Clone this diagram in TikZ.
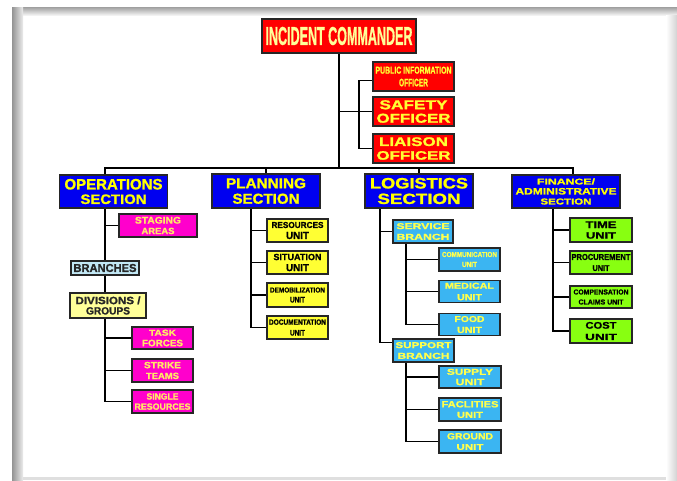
\documentclass[tikz,border=0pt]{standalone}
\usepackage{fontspec}
\usepackage{graphicx}
\setmainfont{Liberation Sans}[BoldFeatures={FakeBold=1.2}]
\usetikzlibrary{calc}

% one text line stretched to a given width and cap height
\newcommand\fitl[3]{\resizebox{#1pt}{#2pt}{#3}}

\definecolor{icred}{HTML}{FF0000}
\definecolor{icText}{HTML}{FFFF99}
\definecolor{staffText}{HTML}{FFFF33}
\definecolor{secblue}{HTML}{0000F0}
\definecolor{secText}{HTML}{FFFF00}
\definecolor{magfill}{HTML}{FF00CC}
\definecolor{magText}{HTML}{FFE866}
\definecolor{unityel}{HTML}{FFFF33}
\definecolor{cyanfill}{HTML}{3BB5F2}
\definecolor{cyanText}{HTML}{FFFF4D}
\definecolor{grnfill}{HTML}{88FF11}
\definecolor{brafill}{HTML}{C2E8F5}
\definecolor{divfill}{HTML}{FFFF99}

\pgfdeclarelayer{frame}
\pgfdeclarelayer{background}
\pgfsetlayers{frame,background,main}

\tikzset{
  orgbox/.style={draw=black!85, line width=1.2pt, inner sep=0pt, align=center,
    font=\bfseries},
  lsp/.style={font=\bfseries\fontsize{8}{#1}\selectfont},
  staff/.style={orgbox, fill=icred, text=staffText, minimum width=81pt, minimum height=29pt},
  sect/.style={orgbox, fill=secblue, text=secText, minimum width=108pt, minimum height=34pt},
  opsunit/.style={orgbox, fill=magfill, text=magText, minimum width=61pt, minimum height=23pt},
  planunit/.style={orgbox, fill=unityel, text=black, minimum width=61pt, minimum height=23pt},
  logunit/.style={orgbox, fill=cyanfill, text=cyanText, minimum width=61pt, minimum height=23pt},
  finunit/.style={orgbox, fill=grnfill, text=black, minimum width=62pt, minimum height=23pt},
  conn/.style={draw=black, line width=1.8pt}
}

\begin{document}
\begin{tikzpicture}[x=1pt, y=-1pt]
\useasboundingbox (0,0) rectangle (677,480);

% page frame
\begin{pgfonlayer}{frame}
  \fill[white] (0,0) rectangle (677,480);
  \shade[top color=gray!75, bottom color=gray!10] (12,7) rectangle (677,15);
  \shade[left color=gray!85, right color=gray!15] (12,7) rectangle (23,480);
  \shade[left color=white, right color=gray!35] (666,15) rectangle (677,480);
  \fill[gray!25] (23,477) rectangle (666,480);
\end{pgfonlayer}

% command staff
\node[orgbox, fill=icred, text=icText, minimum width=154pt, minimum height=34pt] (ic) at (339,36)
  {\fitl{147}{18}{INCIDENT COMMANDER}};
\node[staff, lsp=12.6] (pio) at (413.5,76.5) {\fitl{76}{7}{PUBLIC INFORMATION}\\\fitl{29}{7.5}{OFFICER}};
\node[staff, lsp=13.5] (saf) at (413.5,111.5) {\fitl{68}{9}{SAFETY}\\\fitl{74}{9}{OFFICER}};
\node[staff, lsp=13.7] (lia) at (413.5,148.5) {\fitl{69}{8.7}{LIAISON}\\\fitl{74}{8.5}{OFFICER}};

% general staff sections
\node[sect, minimum height=33pt, lsp=14.5] (ops) at (113.5,191.5) {\fitl{98}{10.5}{OPERATIONS}\\\fitl{66}{9.5}{SECTION}};
\node[sect, lsp=15.5] (pla) at (266,191) {\fitl{80}{10}{PLANNING}\\\fitl{67}{10}{SECTION}};
\node[sect, lsp=15.5] (log) at (419,191) {\fitl{98}{10.5}{LOGISTICS}\\\fitl{83}{10.3}{SECTION}};
\node[sect, minimum height=33pt, lsp=10] (fin) at (566,191.5) {\fitl{58}{6}{FINANCE/}\\\fitl{101}{6.5}{ADMINISTRATIVE}\\\fitl{51}{6}{SECTION}};

% operations
\node[opsunit, minimum width=78pt, lsp=10.5] (stg) at (158,225.5) {\fitl{46}{6.7}{STAGING}\\\fitl{33}{6.3}{AREAS}};
\node[orgbox, fill=brafill, text=black!85, minimum width=68pt, minimum height=14pt] (bra) at (105,268) {\fitl{63}{8}{BRANCHES}};
\node[orgbox, fill=divfill, text=black!85, minimum width=76pt, minimum height=25pt, lsp=10.3] (div) at (108,305.5) {\fitl{65}{7.7}{DIVISIONS /}\\\fitl{44}{7.3}{GROUPS}};
\node[opsunit, minimum height=22pt, lsp=10.5] (tsk) at (162.5,338) {\fitl{27}{6}{TASK}\\\fitl{41}{6.5}{FORCES}};
\node[opsunit, lsp=10.8] (str) at (162.5,370.5) {\fitl{37}{6.3}{STRIKE}\\\fitl{33}{6.3}{TEAMS}};
\node[opsunit, lsp=10.2] (sng) at (162.5,401.5) {\fitl{32}{6.3}{SINGLE}\\\fitl{56}{6.3}{RESOURCES}};

% planning
\node[planunit, lsp=11] (res) at (297.5,230.5) {\fitl{52}{6}{RESOURCES}\\\fitl{23}{7}{UNIT}};
\node[planunit, lsp=11] (sit) at (297.5,262.5) {\fitl{48}{6.3}{SITUATION}\\\fitl{23}{7}{UNIT}};
\node[planunit, minimum height=24pt, lsp=10] (dem) at (297.5,295) {\fitl{55}{5}{DEMOBILIZATION}\\\fitl{15}{5.5}{UNIT}};
\node[planunit, lsp=10.8] (doc) at (297.5,327.5) {\fitl{57}{5.3}{DOCUMENTATION}\\\fitl{15}{5.5}{UNIT}};

% logistics
\node[logunit, minimum width=60pt, lsp=10.7] (svc) at (423,231.5) {\fitl{53}{6}{SERVICE}\\\fitl{53}{6}{BRANCH}};
\node[logunit, lsp=10] (com) at (469.5,259.5) {\fitl{55}{5}{COMMUNICATION}\\\fitl{15}{5}{UNIT}};
\node[logunit, minimum height=22pt, lsp=11.5] (med) at (469.5,291.5) {\fitl{49}{6}{MEDICAL}\\\fitl{25}{6}{UNIT}};
\node[logunit, minimum height=22pt, lsp=11] (foo) at (469.5,324.5) {\fitl{30}{6}{FOOD}\\\fitl{25}{6}{UNIT}};
\node[logunit, lsp=10.7] (sup) at (423.5,350.5) {\fitl{56}{6}{SUPPORT}\\\fitl{52}{6}{BRANCH}};
\node[logunit, minimum width=62pt, minimum height=22pt, lsp=10.3] (spl) at (470,377) {\fitl{46}{6}{SUPPLY}\\\fitl{29}{6.3}{UNIT}};
\node[logunit, minimum width=62pt, lsp=10.5] (fac) at (470,409.5) {\fitl{57}{6.3}{FACLITIES}\\\fitl{26}{6}{UNIT}};
\node[logunit, minimum width=62pt, lsp=10.5] (grd) at (470,441.5) {\fitl{46}{6.3}{GROUND}\\\fitl{27}{5.7}{UNIT}};

% finance / administration
\node[finunit, minimum height=24pt, lsp=10.5] (tim) at (601,230) {\fitl{31}{6.7}{TIME}\\\fitl{30}{6.3}{UNIT}};
\node[finunit, lsp=11] (pro) at (601,262.5) {\fitl{59}{6}{PROCUREMENT}\\\fitl{17}{5.7}{UNIT}};
\node[finunit, minimum height=22pt, lsp=10] (cmp) at (601,297) {\fitl{55}{5}{COMPENSATION}\\\fitl{45}{5}{CLAIMS UNIT}};
\node[finunit, minimum height=24pt, lsp=11.3] (cst) at (601,331) {\fitl{31}{6.7}{COST}\\\fitl{32}{6}{UNIT}};

% trunk lines and the main bus
\coordinate (bus) at (0,168);
\coordinate (opT) at (105,0);
\coordinate (plT) at (251,0);
\coordinate (loT) at (380,0);
\coordinate (svT) at (406,0);
\coordinate (fiT) at (553,0);
\coordinate (stT) at (359,0);
\coordinate (fiD) at (573,0);

\begin{pgfonlayer}{background}
  \draw[conn] (ic.south) -- (ic.south |- bus);
  \draw[conn] (ops.north -| opT) |- (bus -| fiD) -- (fin.north -| fiD);
  \draw[conn] (pla.north) -- (pla.north |- bus);
  \draw[conn] (log.north) -- (log.north |- bus);

  % command staff
  \draw[conn] (ic.south |- saf.west) -- (saf.west);
  \draw[conn] ([yshift=-4pt]pio.west) -| (stT |- lia.west) -- (lia.west);

  % operations
  \draw[conn] (ops.south -| opT) -- (bra.north -| opT);
  \draw[conn] (stg.west) -- (stg.west -| opT);
  \draw[conn] (bra.south -| opT) -- (div.north -| opT);
  \draw[conn] (div.south -| opT) |- (sng.west);
  \draw[conn] (tsk.west) -- (tsk.west -| opT);
  \draw[conn] (str.west) -- (str.west -| opT);

  % planning
  \draw[conn] (pla.south -| plT) |- (doc.west);
  \draw[conn] (res.west) -- (res.west -| plT);
  \draw[conn] (sit.west) -- (sit.west -| plT);
  \draw[conn] (dem.west) -- (dem.west -| plT);

  % logistics
  \draw[conn] (log.south -| loT) |- ([yshift=8pt]sup.west);
  \draw[conn] (svc.west) -- (svc.west -| loT);
  \draw[conn] (svc.south -| svT) |- (foo.west);
  \draw[conn] (com.west) -- (com.west -| svT);
  \draw[conn] (med.west) -- (med.west -| svT);
  \draw[conn] (sup.south -| svT) |- (grd.west);
  \draw[conn] (spl.west) -- (spl.west -| svT);
  \draw[conn] (fac.west) -- (fac.west -| svT);

  % finance / administration
  \draw[conn] (fin.south -| fiT) |- (cst.west);
  \draw[conn] (tim.west) -- (tim.west -| fiT);
  \draw[conn] (pro.west) -- (pro.west -| fiT);
  \draw[conn] (cmp.west) -- (cmp.west -| fiT);
\end{pgfonlayer}
\end{tikzpicture}
\end{document}
